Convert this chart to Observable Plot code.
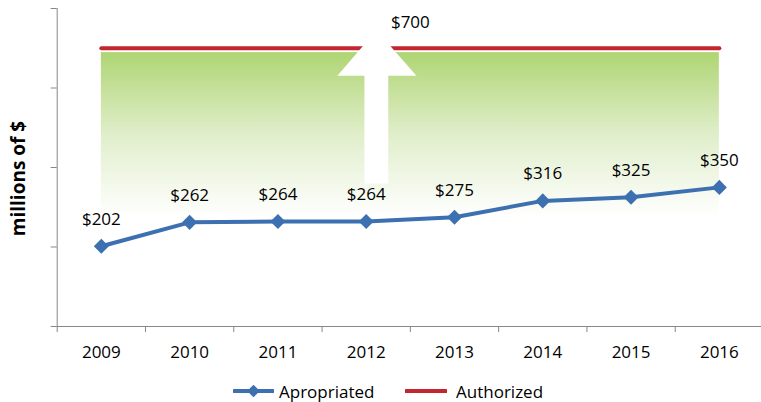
<!DOCTYPE html>
<html>
<head>
<meta charset="utf-8">
<script src="https://cdn.jsdelivr.net/npm/d3@7"></script>
<script src="https://cdn.jsdelivr.net/npm/@observablehq/plot@0.6"></script>
<style>
  html, body { margin: 0; padding: 0; background: #fff; }
  #wrap { position: relative; width: 761px; height: 402px; overflow: hidden; font-family: "Open Sans", sans-serif; }
  #legend { position: absolute; left: 0; top: 380px; width: 761px; height: 22px; font-size: 17px; }
  .item { position: absolute; top: 0; height: 22px; display: flex; align-items: center; }
  .item svg { margin-right: 5px; }
</style>
</head>
<body>
<div id="wrap">
  <div id="chart"></div>
  <div id="legend"></div>
</div>
<script>
// ---- data ----
const years = [2009, 2010, 2011, 2012, 2013, 2014, 2015, 2016];
const appropriated = [202, 262, 264, 264, 275, 316, 325, 350];
const authorized = [700, 700, 700, 700, 700, 700, 700, 700];
const yTicks = [0, 200, 400, 600, 800];
const seriesNames = ["Apropriated", "Authorized"];
// gap between appropriated and authorized (gradient band), in data units
const gapBand = [{x1: 2009, x2: 2016, y1: 274, y2: 689}];
// upward arrow outline in data units
const arrowPts = [
  {x: 2011.98, y: 360}, {x: 2011.98, y: 631}, {x: 2011.674, y: 631},
  {x: 2012.116, y: 745}, {x: 2012.569, y: 631}, {x: 2012.25, y: 631},
  {x: 2012.25, y: 360}
];
const authLabel = [{x: 2012.5, y: 700, text: "$700"}];

const blue = "#3d70b0";
const red = "#c3262e";
const gray = "#878787";

const approData = years.map((y, i) => ({year: y, value: appropriated[i]}));
const authData = years.map((y, i) => ({year: y, value: authorized[i]}));
const boundaries = years.map(y => y - 0.5);

const plot = Plot.plot({
  width: 761,
  height: 380,
  marginTop: 8,
  marginBottom: 54,
  marginLeft: 56.7,
  marginRight: -2,
  style: {fontFamily: "'Open Sans', sans-serif", fontSize: "17px", color: "#000", background: "#fff"},
  x: {type: "linear", domain: [2008.5, 2016.5], axis: null},
  y: {type: "linear", domain: [0, 800], axis: null},
  marks: [
    Plot.rect(gapBand, {x1: "x1", x2: "x2", y1: "y1", y2: "y2", fill: "url(#greenFade)"}),
    Plot.line(authData, {x: "year", y: "value", stroke: red, strokeWidth: 4}),
    Plot.line(arrowPts, {x: "x", y: "y", fill: "white", stroke: "none"}),
    Plot.text(authLabel, {x: "x", y: "y", text: "text", dy: -26, fontSize: 17, fill: "#000"}),
    // axes
    Plot.ruleX([2008.5], {y1: 0, y2: 800, stroke: gray, strokeWidth: 1}),
    Plot.ruleY([0], {stroke: gray, strokeWidth: 1}),
    Plot.axisX({ticks: boundaries, tickSize: 6, tickFormat: () => "", stroke: gray}),
    Plot.axisY({ticks: yTicks, tickSize: 6, tickFormat: () => "", stroke: gray}),
    Plot.text(years, {x: d => d, frameAnchor: "bottom", dy: 26, lineAnchor: "middle", fontSize: 17, fill: "#000", text: d => String(d)}),
    Plot.text(["millions of $"], {frameAnchor: "left", textAnchor: "middle", dx: -38, dy: 11, rotate: -90, fontSize: 19, fontWeight: "bold", fill: "#000"}),
    // appropriated series
    Plot.line(approData, {x: "year", y: "value", stroke: blue, strokeWidth: 4}),
    Plot.dot(approData, {x: "year", y: "value", symbol: "square", r: 6, rotate: 45, fill: blue, stroke: "none"}),
    Plot.text(approData, {x: "year", y: "value", text: d => "$" + d.value, dy: -27, fontSize: 17, fill: "#000"})
  ]
});

// gradient definition
const svg = d3.select(plot);
const defs = svg.insert("defs", ":first-child");
const grad = defs.append("linearGradient")
  .attr("id", "greenFade").attr("x1", 0).attr("y1", 0).attr("x2", 0).attr("y2", 1);
grad.append("stop").attr("offset", "0%").attr("stop-color", "#afd573");
grad.append("stop").attr("offset", "50%").attr("stop-color", "#e0eecb");
grad.append("stop").attr("offset", "100%").attr("stop-color", "#ffffff");

document.getElementById("chart").appendChild(plot);

// legend
const legend = document.getElementById("legend");
const legendItems = [
  {name: seriesNames[0], color: blue, diamond: true, left: 233},
  {name: seriesNames[1], color: red, diamond: false, left: 405}
];
legendItems.forEach(it => {
  const div = document.createElement("div");
  div.className = "item";
  div.style.left = it.left + "px";
  const w = it.diamond ? 41 : 42;
  div.innerHTML =
    `<svg width="${w}" height="16" viewBox="0 0 ${w} 16">` +
    `<line x1="1" y1="8" x2="${w - 1}" y2="8" stroke="${it.color}" stroke-width="4" stroke-linecap="round"/>` +
    (it.diamond ? `<rect x="${w / 2 - 4.5}" y="3.5" width="9" height="9" fill="${it.color}" transform="rotate(45 ${w / 2} 8)"/>` : "") +
    `</svg><span style="margin-left:${it.diamond ? 0 : 4}px">${it.name}</span>`;
  legend.appendChild(div);
});
</script>
</body>
</html>
